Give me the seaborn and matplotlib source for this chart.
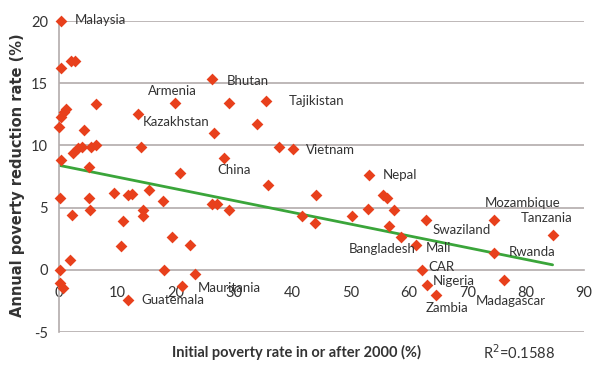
import matplotlib
matplotlib.use("Agg")
import matplotlib.pyplot as plt
import seaborn as sns
import pandas as pd

# Initial poverty rate (%) in or after 2000, per country
initial_rate = [
    0.3, 0.3, 2.0, 2.8, 6.3, 0.4, 0.8, 1.2, 0.0, 4.3,
    13.6, 19.9, 2.4, 3.3, 3.9, 5.4, 6.3, 14.0, 0.3, 5.1,
    0.2, 5.1, 5.3, 2.2, 9.5, 11.9, 12.5, 15.4, 17.9, 14.4,
    14.4, 11.0, 10.6, 19.3, 1.9, 0.1, 18.0, 0.1, 0.7, 11.9,
    22.4, 23.3, 21.0, 20.7, 26.3, 29.1, 35.4, 34.0, 26.5, 37.7,
    40.1, 28.3, 35.9, 44.0, 26.2, 27.0, 29.2, 41.6, 43.8, 53.1,
    55.5, 56.3, 50.2, 53.0, 57.4, 56.5, 58.6, 61.2, 62.9, 62.3,
    63.0, 64.6, 74.6, 84.6, 74.5, 76.3,
]
# Annual poverty reduction rate (%)
reduction_rate = [
    20.0, 16.2, 16.75, 16.75, 13.3, 12.3, 12.7, 12.9, 11.5, 11.2,
    12.5, 13.4, 9.4, 9.8, 9.9, 9.9, 10.0, 9.9, 8.8, 8.3,
    5.8, 5.8, 4.8, 4.4, 6.2, 6.0, 6.1, 6.4, 5.5, 4.8,
    4.3, 3.9, 1.9, 2.6, 0.8, 0.0, 0.0, -1.1, -1.5, -2.4,
    2.0, -0.3, -1.3, 7.8, 15.3, 13.4, 13.6, 11.7, 11.0, 9.9,
    9.7, 9.0, 6.8, 6.0, 5.3, 5.3, 4.8, 4.3, 3.8, 7.6,
    6.0, 5.8, 4.3, 4.9, 4.8, 3.5, 2.6, 2.0, 4.0, 0.0,
    -1.2, -2.0, 4.0, 2.8, 1.35, -0.8,
]

# Linear trend line end points
trend_x = [0.0, 84.6]
trend_y = [8.4, 0.4]

# Country names and where their labels sit
label_names = [
    "Malaysia", "Armenia", "Kazakhstan", "Bhutan", "Tajikistan", "Vietnam",
    "China", "Nepal", "Mozambique", "Tanzania", "Swaziland", "Rwanda",
    "Bangladesh", "Mali", "CAR", "Nigeria", "Zambia", "Madagascar",
    "Mauritania", "Guatemala",
]
label_x = [
    2.7, 15.3, 14.4, 28.8, 39.3, 42.3,
    27.1, 55.5, 73.0, 79.2, 64.0, 77.0,
    49.7, 62.9, 63.3, 64.0, 62.8, 71.5,
    23.7, 14.2,
]
label_y = [
    20.1, 14.4, 11.9, 15.2, 13.6, 9.6,
    8.0, 7.6, 5.4, 4.2, 3.2, 1.4,
    1.7, 1.75, 0.2, -0.9, -3.1, -2.5,
    -1.5, -2.4,
]

x_ticks = [0, 10, 20, 30, 40, 50, 60, 70, 80, 90]
y_ticks = [-5, 0, 5, 10, 15, 20]
r_squared = "R$^2$=0.1588"

df = pd.DataFrame({"initial": initial_rate, "reduction": reduction_rate})
trend = pd.DataFrame({"initial": trend_x, "reduction": trend_y})

sns.set_style("white")
plt.rcParams["font.family"] = ["Lato", "DejaVu Sans"]

fig = plt.figure(figsize=(5.93, 3.65), dpi=100)
ax = fig.add_axes([0.0995, 0.0904, 0.8855, 0.852])

grid_color = "#b3acac"
text_color = "#333333"

# horizontal gridlines
for yv in y_ticks:
    if yv != 0:
        ax.axhline(yv, color=grid_color, lw=1.2, zorder=0)

sns.lineplot(data=trend, x="initial", y="reduction", ax=ax,
             color="#3aa53a", lw=2.0, zorder=2)
sns.scatterplot(data=df, x="initial", y="reduction", ax=ax, marker="D", s=36,
                color="#e8401c", linewidth=0, zorder=3)
# let edge markers sit fully over the axes border
for coll in ax.collections:
    coll.set_clip_on(False)

ax.set_xlim(0, 90)
ax.set_ylim(-5, 20)
ax.set_xticks(x_ticks)
ax.set_yticks(y_ticks)
ax.set_xticklabels([str(t) for t in x_ticks])
ax.set_yticklabels([str(t) for t in y_ticks])

for side in ["top", "right"]:
    ax.spines[side].set_visible(False)
ax.spines["bottom"].set_position(("data", 0))
ax.spines["bottom"].set_color(grid_color)
ax.spines["bottom"].set_linewidth(1.2)
ax.spines["left"].set_color(grid_color)
ax.spines["left"].set_linewidth(1.2)
ax.spines["bottom"].set_zorder(0)

ax.tick_params(axis="x", direction="inout", length=9, width=1.0, color=grid_color,
               labelsize=10.5, labelcolor=text_color, pad=7)
ax.tick_params(axis="y", length=0, labelsize=10.5, labelcolor=text_color, pad=8)

ax.set_xlabel("")
ax.set_ylabel("")

fig.text(0.5, 0.035, "Initial poverty rate in or after 2000 (%)", ha="center", va="center",
         fontsize=10.5, fontweight="bold", color=text_color)
fig.text(0.03, 0.52, "Annual poverty reduction rate (%)", ha="center", va="center",
         rotation=90, fontsize=10.5, fontweight="bold", color=text_color,
         family="DejaVu Sans")
fig.text(0.815, 0.035, r_squared, ha="left", va="center", fontsize=10.5, color=text_color)

for name, lx, ly in zip(label_names, label_x, label_y):
    ax.text(lx, ly, name, ha="left", va="center", fontsize=9.5, color=text_color, zorder=4)

fig.savefig("out.png", dpi=100, facecolor="white")
